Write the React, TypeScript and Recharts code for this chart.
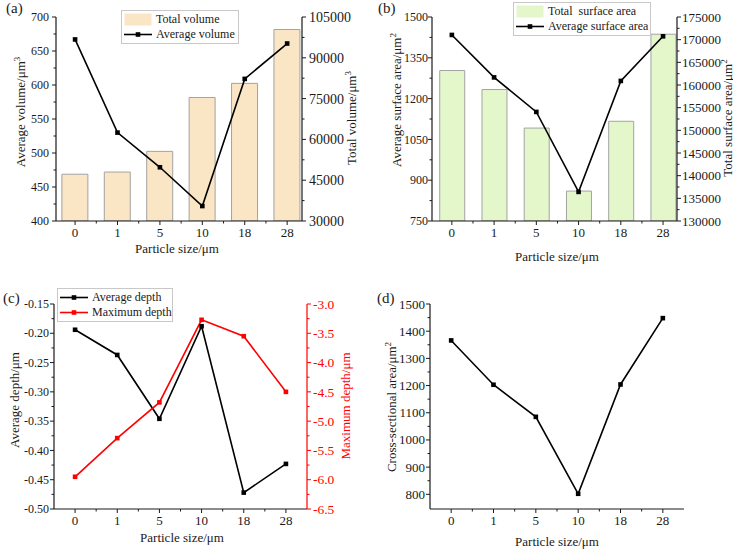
import React from "react";
import { ComposedChart, LineChart, Bar, Line, XAxis, YAxis, Legend } from "recharts";

const particleSizes = ["0", "1", "5", "10", "18", "28"];

// (a) pit volume
const avgVolume = [667, 530, 479, 422, 609, 661];
const totalVolume = [47200, 48000, 55600, 75400, 80600, 100400];

// (b) pit surface area
const avgSurface = [1434, 1278, 1151, 857, 1265, 1429];
const totalSurface = [163200, 159000, 150500, 136600, 152000, 171200];

// (c) pit depth
const avgDepth = [-0.194, -0.237, -0.346, -0.188, -0.472, -0.423];
const maxDepth = [-5.95, -5.29, -4.68, -3.27, -3.55, -4.5];

// (d) cross-sectional area
const crossSection = [1366, 1203, 1085, 802, 1204, 1448];

// axis tick labels
const volumeTicks = [400, 450, 500, 550, 600, 650, 700];
const totalVolumeTicks = [30000, 45000, 60000, 75000, 90000, 105000];
const surfaceTicks = [750, 900, 1050, 1200, 1350, 1500];
const totalSurfaceTicks = [130000, 135000, 140000, 145000, 150000, 155000, 160000, 165000, 170000, 175000];
const depthTicks = [-0.5, -0.45, -0.4, -0.35, -0.3, -0.25, -0.2, -0.15];
const maxDepthTicks = [-6.5, -6, -5.5, -5, -4.5, -4, -3.5, -3];
const crossTicks = [800, 900, 1000, 1100, 1200, 1300, 1400, 1500];

const FONT = '"Liberation Serif", "Times New Roman", serif';
const INK = "#1a1a1a";
const RED = "#ff0000";

const rows = particleSizes.map((size, i) => ({
  idx: i,
  size,
  avgVolume: avgVolume[i],
  totalVolume: totalVolume[i],
  avgSurface: avgSurface[i],
  totalSurface: totalSurface[i],
  avgDepth: avgDepth[i],
  maxDepth: maxDepth[i],
  crossSection: crossSection[i],
}));

// minor ticks sit halfway between the labelled ones
const withMinors = (majors: number[]) => {
  const out: number[] = [];
  majors.forEach((v, i) => {
    out.push(v);
    if (i < majors.length - 1) out.push((v + majors[i + 1]) / 2);
  });
  return out;
};

const xMajors = particleSizes.map((_, i) => i);
const xTicks = withMinors(xMajors);

type TickOpts = { majors: number[]; fmt?: (v: number) => string; color?: string; gap?: number; size?: number };

const leftTick = ({ majors, fmt = String, color = INK, gap = 7, size = 12 }: TickOpts) => (props: any) => {
  const { x, y, payload } = props;
  const major = majors.includes(payload.value);
  return (
    <g>
      <line x1={x} x2={x - (major ? 4 : 2.5)} y1={y} y2={y} stroke={color} strokeWidth={1} />
      {major && (
        <text x={x - gap} y={y} dy="0.35em" textAnchor="end" fill={color} fontSize={size} fontFamily={FONT}>
          {fmt(payload.value)}
        </text>
      )}
    </g>
  );
};

const rightTick = ({ majors, fmt = String, color = INK, gap = 6, size = 13.5 }: TickOpts) => (props: any) => {
  const { x, y, payload } = props;
  const major = majors.includes(payload.value);
  return (
    <g>
      <line x1={x} x2={x + (major ? 4 : 2.5)} y1={y} y2={y} stroke={color} strokeWidth={1} />
      {major && (
        <text x={x + gap} y={y} dy="0.35em" textAnchor="start" fill={color} fontSize={size} fontFamily={FONT}>
          {fmt(payload.value)}
        </text>
      )}
    </g>
  );
};

const bottomTick = (props: any) => {
  const { x, y, payload } = props;
  const major = Number.isInteger(payload.value);
  return (
    <g>
      <line x1={x} x2={x} y1={y} y2={y + (major ? 4 : 2.5)} stroke={INK} strokeWidth={1} />
      {major && (
        <text x={x} y={y + 16} textAnchor="middle" fill={INK} fontSize={13} fontFamily={FONT}>
          {particleSizes[payload.value]}
        </text>
      )}
    </g>
  );
};

const squareDot = (color: string) => (props: any) => {
  const { cx, cy, index } = props;
  if (cx == null || cy == null) return <g key={index} />;
  return <rect key={index} x={cx - 2.3} y={cy - 2.3} width={4.6} height={4.6} fill={color} />;
};

const axisLine = { stroke: INK, strokeWidth: 1.2 };

type LegendRow = { label: string; kind: "bar" | "line"; color: string };

const legendBox = (rows: LegendRow[], width: number) => () => (
  <div
    style={{
      width,
      boxSizing: "border-box",
      border: "1px solid #c8c8c8",
      background: "#fff",
      padding: "1px 2px",
      fontFamily: FONT,
      fontSize: 12,
      color: INK,
    }}
  >
    {rows.map((r) => (
      <div key={r.label} style={{ display: "flex", alignItems: "center", height: 15, whiteSpace: "pre" }}>
        <svg width={28} height={15} style={{ flex: "none" }}>
          {r.kind === "bar" ? (
            <rect x={0.5} y={1.5} width={27} height={12} fill={r.color} />
          ) : (
            <g>
              <line x1={0} x2={28} y1={7.5} y2={7.5} stroke={r.color} strokeWidth={1.6} />
              <rect x={11.7} y={5.2} width={4.6} height={4.6} fill={r.color} />
            </g>
          )}
        </svg>
        <span style={{ marginLeft: 4 }}>{r.label}</span>
      </div>
    ))}
  </div>
);

const xAxisProps = {
  type: "number" as const,
  dataKey: "idx",
  ticks: xTicks,
  interval: 0 as const,
  height: 30,
  tickSize: 0,
  tickMargin: 0,
  tickLine: false,
  tick: bottomTick,
  axisLine,
  allowDataOverflow: true,
};

const yCommon = { interval: 0 as const, tickSize: 0, tickMargin: 0, tickLine: false, allowDataOverflow: true };

const legendPlacement = { layout: "vertical" as const, verticalAlign: "middle" as const, align: "center" as const };

const Title = ({ x, y, text, sup, vertical, color = INK }: { x: number; y: number; text: string; sup?: string; vertical?: boolean; color?: string }) => (
  <div
    style={{
      position: "absolute",
      left: x,
      top: y,
      transform: `translate(-50%, -50%)${vertical ? " rotate(-90deg)" : ""}`,
      whiteSpace: "nowrap",
      fontFamily: FONT,
      fontSize: 13,
      lineHeight: "15px",
      color,
    }}
  >
    {text}
    {sup && <sup style={{ fontSize: 9, verticalAlign: "5px", lineHeight: 0 }}>{sup}</sup>}
  </div>
);

const Tag = ({ x, y, text }: { x: number; y: number; text: string }) => (
  <div style={{ position: "absolute", left: x, top: y, fontFamily: FONT, fontSize: 15, lineHeight: "16px", color: INK }}>{text}</div>
);

const App = () => (
  <div style={{ position: "absolute", left: 0, top: 0, width: 733, height: 549, background: "#fff", overflow: "hidden" }}>
    {/* (a) volume */}
    <div style={{ position: "absolute", left: 0, top: 0 }}>
      <ComposedChart width={366} height={270} data={rows} margin={{ top: 17, right: 14, bottom: 19, left: 16 }}>
        <XAxis {...xAxisProps} domain={[-0.45, 5.35]} />
        <YAxis {...yCommon} yAxisId="avg" width={40} domain={[400, 700]} ticks={withMinors(volumeTicks)} tick={leftTick({ majors: volumeTicks })} axisLine={axisLine} />
        <YAxis {...yCommon} yAxisId="total" orientation="right" width={50} domain={[30000, 105000]} ticks={withMinors(totalVolumeTicks)} tick={rightTick({ majors: totalVolumeTicks, size: 14, gap: 7 })} axisLine={axisLine} />
        <Bar yAxisId="total" dataKey="totalVolume" barSize={26} fill="#fae5c4" stroke="#a3a3a3" strokeWidth={1} isAnimationActive={false} />
        <Line yAxisId="avg" type="linear" dataKey="avgVolume" stroke="#000" strokeWidth={1.6} dot={squareDot("#000")} activeDot={false} isAnimationActive={false} />
        <Legend
          {...legendPlacement}
          wrapperStyle={{ left: 121, top: 10, width: 118 }}
          content={legendBox(
            [
              { label: "Total volume", kind: "bar", color: "#fae5c4" },
              { label: "Average volume", kind: "line", color: "#000" },
            ],
            118
          )}
        />
      </ComposedChart>
    </div>

    {/* (b) surface area */}
    <div style={{ position: "absolute", left: 366, top: 0 }}>
      <ComposedChart width={367} height={270} data={rows} margin={{ top: 17, right: 6, bottom: 19, left: 16 }}>
        <XAxis {...xAxisProps} domain={[-0.47, 5.33]} />
        <YAxis {...yCommon} yAxisId="avg" width={50} domain={[750, 1500]} ticks={withMinors(surfaceTicks)} tick={leftTick({ majors: surfaceTicks, gap: 4 })} axisLine={axisLine} />
        <YAxis {...yCommon} yAxisId="total" orientation="right" width={50} domain={[130000, 175000]} ticks={withMinors(totalSurfaceTicks)} tick={rightTick({ majors: totalSurfaceTicks, size: 13, gap: 5 })} axisLine={axisLine} />
        <Bar yAxisId="total" dataKey="totalSurface" barSize={25} fill="#e3f7ca" stroke="#a3a3a3" strokeWidth={1} isAnimationActive={false} />
        <Line yAxisId="avg" type="linear" dataKey="avgSurface" stroke="#000" strokeWidth={1.6} dot={squareDot("#000")} activeDot={false} isAnimationActive={false} />
        <Legend
          {...legendPlacement}
          wrapperStyle={{ left: 147, top: 2, width: 138 }}
          content={legendBox(
            [
              { label: "Total  surface area", kind: "bar", color: "#e3f7ca" },
              { label: "Average surface area", kind: "line", color: "#000" },
            ],
            138
          )}
        />
      </ComposedChart>
    </div>

    {/* (c) depth */}
    <div style={{ position: "absolute", left: 0, top: 275 }}>
      <LineChart width={366} height={274} data={rows} margin={{ top: 29, right: 19, bottom: 10, left: 14 }}>
        <XAxis {...xAxisProps} domain={[-0.5, 5.5]} />
        <YAxis {...yCommon} yAxisId="avg" width={40} domain={[-0.5, -0.15]} ticks={withMinors(depthTicks)} tick={leftTick({ majors: depthTicks, fmt: (v) => v.toFixed(2), gap: 5 })} axisLine={axisLine} />
        <YAxis {...yCommon} yAxisId="max" orientation="right" width={40} domain={[-6.5, -3]} ticks={withMinors(maxDepthTicks)} tick={rightTick({ majors: maxDepthTicks, fmt: (v) => v.toFixed(1), color: RED, gap: 6 })} axisLine={{ stroke: RED, strokeWidth: 1.2 }} />
        <Line yAxisId="avg" type="linear" dataKey="avgDepth" stroke="#000" strokeWidth={1.6} dot={squareDot("#000")} activeDot={false} isAnimationActive={false} />
        <Line yAxisId="max" type="linear" dataKey="maxDepth" stroke={RED} strokeWidth={1.6} dot={squareDot(RED)} activeDot={false} isAnimationActive={false} />
        <Legend
          {...legendPlacement}
          wrapperStyle={{ left: 57, top: 13, width: 116 }}
          content={legendBox(
            [
              { label: "Average depth", kind: "line", color: "#000" },
              { label: "Maximum depth", kind: "line", color: RED },
            ],
            116
          )}
        />
      </LineChart>
    </div>

    {/* (d) cross-sectional area */}
    <div style={{ position: "absolute", left: 366, top: 275 }}>
      <LineChart width={367} height={274} data={rows} margin={{ top: 29, right: 49, bottom: 10, left: 14 }}>
        <XAxis {...xAxisProps} domain={[-0.5, 5.5]} />
        <YAxis {...yCommon} width={50} domain={[746, 1500]} ticks={withMinors(crossTicks)} tick={leftTick({ majors: crossTicks, gap: 5, size: 13 })} axisLine={axisLine} />
        <Line type="linear" dataKey="crossSection" stroke="#000" strokeWidth={1.6} dot={squareDot("#000")} activeDot={false} isAnimationActive={false} />
      </LineChart>
    </div>

    {/* panel tags and axis titles */}
    <Tag x={6} y={0} text="(a)" />
    <Tag x={378} y={0} text="(b)" />
    <Tag x={3} y={290} text="(c)" />
    <Tag x={377} y={290} text="(d)" />

    <Title x={20} y={112} text="Average volume/μm" sup="3" vertical />
    <Title x={351} y={118} text="Total volume/μm" sup="3" vertical />
    <Title x={177} y={248} text="Particle size/μm" />

    <Title x={396} y={100} text="Average surface area/μm" sup="2" vertical />
    <Title x={727} y={118} text="Total surface area/μm" sup="2" vertical />
    <Title x={557} y={256} text="Particle size/μm" />

    <Title x={14} y={400} text="Average depth/μm" vertical />
    <Title x={345} y={406} text="Maximum depth/μm" vertical color={RED} />
    <Title x={182} y={537} text="Particle size/μm" />

    <Title x={391} y={407} text="Cross-sectional area/μm" sup="2" vertical />
    <Title x={557} y={541} text="Particle size/μm" />
  </div>
);

export default App;
